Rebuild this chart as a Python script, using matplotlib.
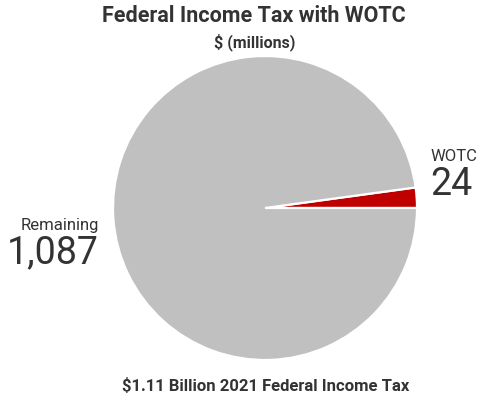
import matplotlib
matplotlib.use("Agg")
import matplotlib.pyplot as plt

plt.rcParams['font.family'] = ['Roboto', 'DejaVu Sans']

categories = ["WOTC", "Remaining"]
values = [24, 1087]
value_labels = ["24", "1,087"]
colors = ["#C00000", "#C0C0C0"]

W, H = 481, 396
fig = plt.figure(figsize=(W / 100, H / 100), dpi=100)
fig.patch.set_facecolor("white")

# pie axes placed in pixel terms: centre (265, 208), radius 152
cx, cy, r = 265, 208, 152
ax = fig.add_axes([(cx - r) / W, 1 - (cy + r) / H, 2 * r / W, 2 * r / H])
ax.pie(values, colors=colors, startangle=0, counterclock=True,
       radius=1.0, wedgeprops=dict(edgecolor="white", linewidth=1.6))
ax.set_xlim(-1, 1)
ax.set_ylim(-1, 1)
ax.set_aspect("equal")
ax.axis("off")

txt = "#333333"
fig.text(254 / W, 1 - 16 / H, "Federal Income Tax with WOTC", ha="center", va="center",
         fontsize=15.5, fontweight="bold", color=txt)
fig.text(255 / W, 1 - 42 / H, "$ (millions)", ha="center", va="center",
         fontsize=11.5, fontweight="bold", color=txt)
fig.text(265.5 / W, 1 - 386 / H, "$1.11 Billion 2021 Federal Income Tax", ha="center", va="center",
         fontsize=12, fontweight="bold", color=txt)

# slice labels
fig.text(431 / W, 1 - 157 / H, categories[0], ha="left", va="center",
         fontsize=12, color=txt)
fig.text(430 / W, 1 - 185 / H, value_labels[0], ha="left", va="center",
         fontsize=27, color=txt)
fig.text(99 / W, 1 - 225 / H, categories[1], ha="right", va="center",
         fontsize=12, color=txt)
fig.text(99 / W, 1 - 253 / H, value_labels[1], ha="right", va="center",
         fontsize=27, color=txt)

fig.savefig("out.png", dpi=100, facecolor="white")
